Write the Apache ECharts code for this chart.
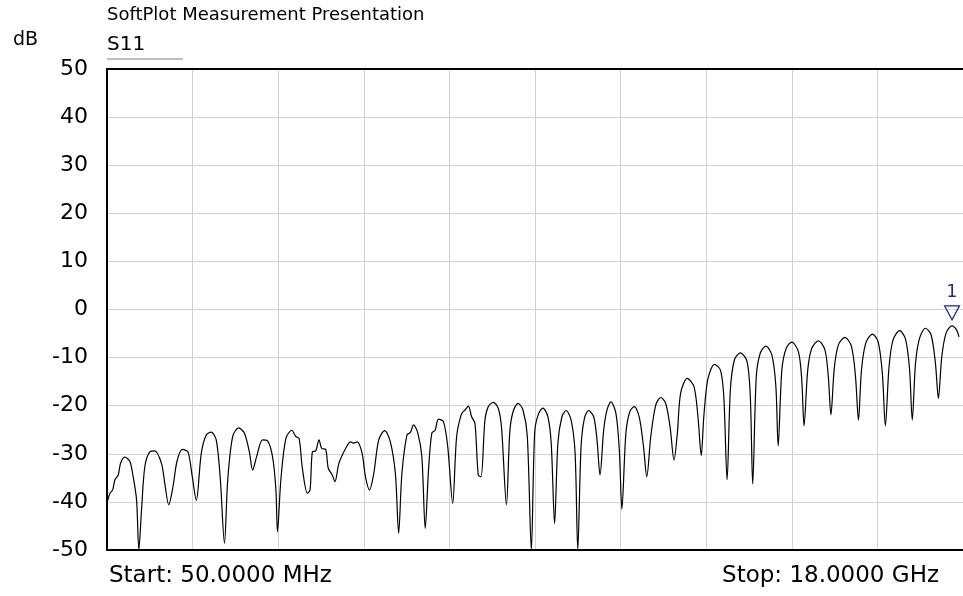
<!DOCTYPE html>
<html>
<head>
<meta charset="utf-8">
<title>SoftPlot S11</title>
<script src="https://cdn.jsdelivr.net/npm/echarts@6/dist/echarts.min.js"></script>
<style>
  html, body { margin: 0; padding: 0; background: #fff; }
  #chart { width: 963px; height: 596px; }
</style>
</head>
<body>
<div id="chart"></div>
<script>
// S11 trace, frequency in GHz and magnitude in dB
const freqGHz = [
  0.056,0.113,0.169,0.217,0.286,0.336,0.426,0.530,0.599,0.670,
  0.718,0.774,0.843,0.947,1.052,1.192,1.261,1.344,1.434,1.517,
  1.630,1.747,1.839,1.922,2.027,2.131,2.235,2.340,2.423,2.513,
  2.582,2.686,2.811,2.930,3.035,3.104,3.187,3.312,3.417,3.521,
  3.592,3.625,3.696,3.801,3.926,4.009,4.078,4.147,4.252,4.308,
  4.356,4.427,4.496,4.552,4.636,4.690,4.773,4.830,4.913,5.053,
  5.157,5.226,5.295,5.400,5.470,5.554,5.644,5.748,5.873,5.992,
  6.097,6.166,6.234,6.339,6.410,6.479,6.568,6.652,6.723,6.792,
  6.861,6.931,7.000,7.105,7.195,7.299,7.382,7.487,7.558,7.627,
  7.696,7.766,7.835,7.892,7.975,8.044,8.148,8.253,8.322,8.426,
  8.497,8.566,8.670,8.774,8.864,8.948,9.019,9.102,9.192,9.296,
  9.365,9.436,9.505,9.589,9.678,9.783,9.866,9.922,9.991,10.062,
  10.146,10.256,10.325,10.388,10.465,10.534,10.617,10.722,10.793,10.847,
  10.931,11.014,11.106,11.210,11.300,11.369,11.453,11.557,11.661,11.765,
  11.857,11.941,12.010,12.079,12.218,12.358,12.442,12.511,12.567,12.650,
  12.788,12.914,12.984,13.053,13.122,13.206,13.331,13.471,13.540,13.590,
  13.665,13.748,13.867,13.993,14.076,14.124,14.201,14.291,14.410,14.550,
  14.619,14.667,14.744,14.827,14.967,15.105,15.176,15.230,15.301,15.385,
  15.523,15.662,15.746,15.808,15.871,15.961,16.101,16.220,16.309,16.372,
  16.449,16.533,16.671,16.796,16.879,16.936,17.004,17.088,17.213,17.332,
  17.422,17.484,17.555,17.645,17.770,17.868,17.917
];
const s11Db = [
  -40.0,-38.2,-37.5,-35.4,-34.4,-31.9,-30.7,-31.6,-34.8,-39.6,
  -50,-41.7,-32.7,-29.6,-29.4,-32.0,-36.1,-40.6,-36.8,-31.6,
  -29.1,-29.6,-34.8,-39.7,-29.9,-26.1,-25.5,-27.1,-34.8,-48.6,
  -35.4,-26.4,-24.6,-25.7,-29.6,-33.4,-30.6,-27.1,-27.3,-30.6,
  -37.5,-46.2,-35.4,-26.8,-25.1,-26.4,-26.8,-33.0,-38.2,-37.5,
  -29.6,-29.4,-27.1,-28.9,-29.1,-33.0,-34.4,-35.8,-32.0,-28.9,
  -27.5,-27.8,-27.5,-29.9,-34.8,-37.5,-34.1,-27.1,-25.2,-27.5,
  -34.1,-46.5,-34.1,-26.1,-25.6,-24.0,-25.7,-30.6,-45.5,-33.4,
  -25.7,-25.1,-22.8,-23.3,-28.5,-40.3,-26.4,-21.6,-20.9,-20.1,
  -22.3,-23.7,-34.4,-34.8,-23.0,-20.2,-19.3,-20.5,-24.4,-40.6,
  -25.4,-21.2,-19.5,-20.9,-26.4,-50,-25.4,-21.6,-20.5,-22.3,
  -27.8,-44.5,-27.8,-22.3,-21.0,-23.0,-29.9,-50,-28.5,-22.6,
  -21.0,-22.3,-27.1,-34.4,-25.1,-20.9,-19.2,-21.6,-29.2,-41.5,
  -25.7,-21.2,-20.2,-22.3,-28.5,-34.8,-26.4,-19.9,-18.3,-19.5,
  -24.4,-31.3,-25.7,-17.4,-14.3,-16.0,-22.3,-30.3,-22.0,-14.5,
  -11.4,-12.6,-18.1,-35.4,-16.7,-10.5,-9.0,-10.8,-18.1,-36.3,
  -14.0,-9.1,-7.6,-9.5,-16.0,-28.4,-12.6,-8.1,-6.8,-8.8,
  -14.7,-24.2,-12.6,-8.1,-6.5,-8.4,-14.0,-21.9,-12.2,-7.4,
  -5.8,-7.7,-14.0,-23.0,-12.6,-7.0,-5.1,-6.7,-13.3,-24.2,
  -11.9,-6.3,-4.4,-6.2,-12.4,-23.0,-11.2,-6.0,-3.9,-5.3,
  -11.2,-18.5,-9.8,-4.9,-3.4,-4.3,-5.7
];

// marker 1
const markerFreq = 17.77;
const markerDb = -3.4;

const startGHz = 0.05;
const stopGHz = 18;

const font = 'DejaVu Sans';
const markerColor = '#23238f';

const chart = echarts.init(document.getElementById('chart'));

const traceData = freqGHz.map((f, i) => [f, s11Db[i]]);

const option = {
  animation: false,
  backgroundColor: '#fff',
  grid: { left: 107, top: 69, width: 860, height: 481 },
  xAxis: [
    {
      type: 'value',
      min: startGHz,
      max: stopGHz,
      position: 'bottom',
      axisLine: { show: true, onZero: false, lineStyle: { color: '#000', width: 2 } },
      axisTick: { show: false },
      axisLabel: { show: false },
      splitLine: { show: false }
    },
    {
      // 10 divisions, only for the vertical grid
      type: 'value',
      min: 0,
      max: 10,
      interval: 1,
      position: 'top',
      axisLine: { show: true, onZero: false, lineStyle: { color: '#000', width: 2 } },
      axisTick: { show: false },
      axisLabel: { show: false },
      splitLine: { show: true, showMinLine: false, lineStyle: { color: '#d2d2d2', width: 1 } }
    }
  ],
  yAxis: {
    type: 'value',
    min: -50,
    max: 50,
    interval: 10,
    axisLine: { show: true, onZero: false, lineStyle: { color: '#000', width: 2 } },
    axisTick: { show: false },
    axisLabel: { color: '#000', fontFamily: font, fontSize: 22, margin: 19 },
    splitLine: { show: true, showMinLine: false, showMaxLine: false, lineStyle: { color: '#d2d2d2', width: 1 } }
  },
  series: [
    {
      name: 'S11',
      type: 'line',
      xAxisIndex: 0,
      data: traceData,
      showSymbol: false,
      clip: true,
      smooth: 0.3,
      lineStyle: { color: '#000', width: 1.2 },
      markPoint: {
        symbol: 'triangle',
        symbolRotate: 180,
        symbolSize: [15, 14],
        symbolOffset: [0, -13],
        itemStyle: { color: 'rgba(0,0,0,0)', borderColor: markerColor, borderWidth: 1.2 },
        label: {
          show: true,
          position: 'top',
          distance: 4,
          formatter: '1',
          color: markerColor,
          fontFamily: font,
          fontSize: 17
        },
        data: [{ coord: [markerFreq, markerDb] }]
      }
    }
  ],
  graphic: [
    { type: 'text', left: 107, top: 6, style: { text: 'SoftPlot Measurement Presentation', font: '18px "DejaVu Sans"', fill: '#000' } },
    { type: 'text', left: 13, top: 31, style: { text: 'dB', font: '19px "DejaVu Sans"', fill: '#000' } },
    { type: 'text', left: 107, top: 35, style: { text: 'S11', font: '20px "DejaVu Sans"', fill: '#000' } },
    { type: 'line', shape: { x1: 107, y1: 59, x2: 183, y2: 59 }, style: { stroke: '#808080', lineWidth: 1 } },
    { type: 'text', left: 109, top: 565, style: { text: 'Start: 50.0000 MHz', font: '23px "DejaVu Sans"', fill: '#000' } },
    { type: 'text', right: 24, top: 565, style: { text: 'Stop: 18.0000 GHz', font: '23px "DejaVu Sans"', fill: '#000' } }
  ]
};

chart.setOption(option);
</script>
</body>
</html>
